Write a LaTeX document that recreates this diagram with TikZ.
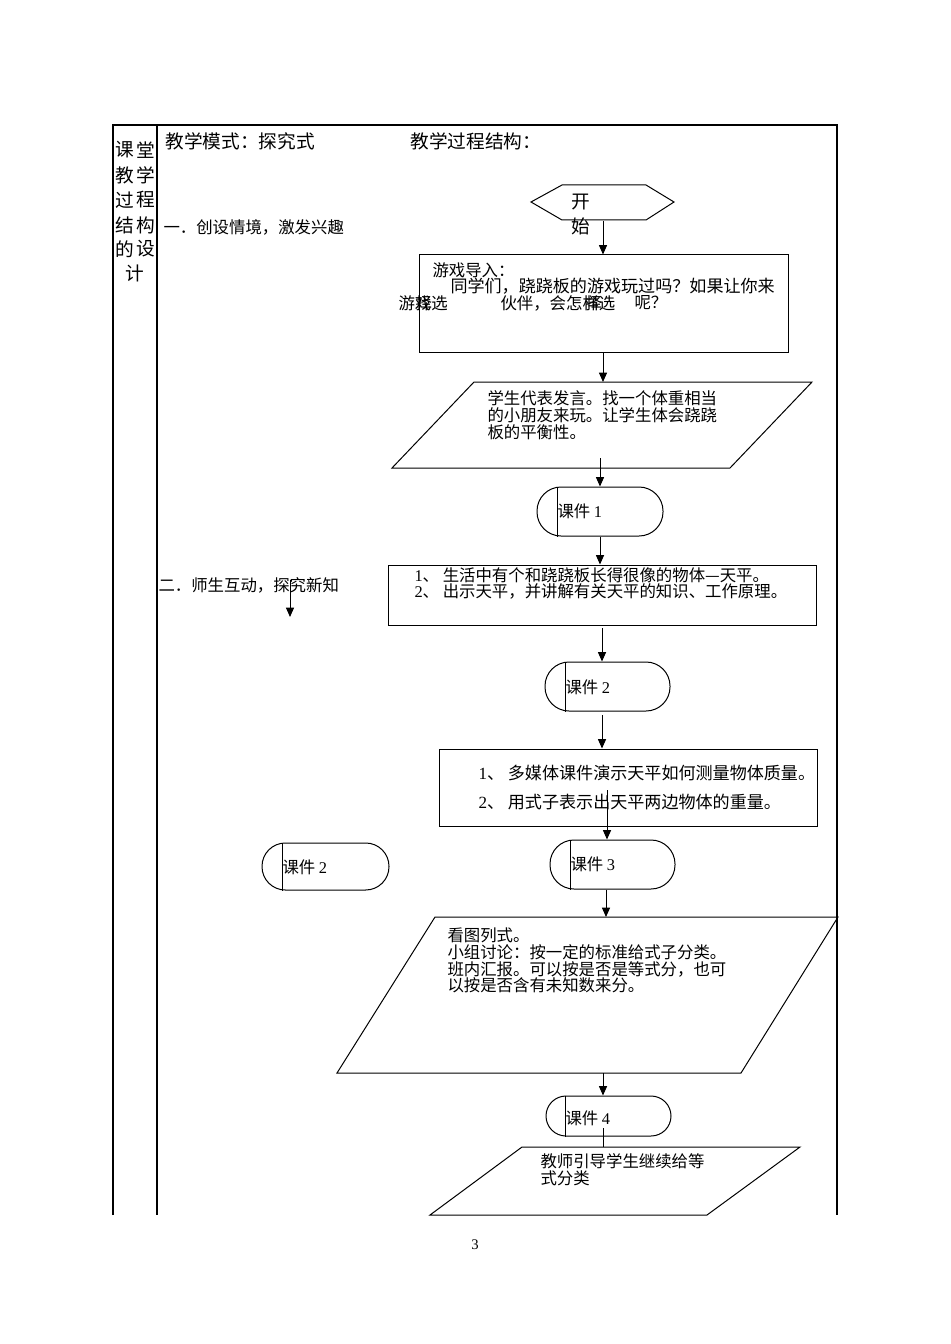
\documentclass[tikz,border=0pt]{standalone}
\usepackage{fontspec}
\setmainfont{Liberation Serif}
\newfontfamily\cjk{Noto Sans CJK SC}
\usetikzlibrary{arrows.meta,fit}
\newcommand{\dg}[1]{{\rmfamily #1}}
\begin{document}
\begin{tikzpicture}[x=0.75pt,y=-0.75pt,line width=0.75pt,
 txt/.style={anchor=west,inner sep=0,font=\cjk\fontsize{12.3}{14}\selectfont},
 wtxt/.style={anchor=west,inner sep=0,font=\cjk\fontsize{12.8}{14}\selectfont},
 big/.style={anchor=west,inner sep=0,font=\cjk\fontsize{14}{16}\selectfont},
 sect/.style={anchor=west,inner sep=0,font=\cjk\fontsize{12.3}{14}\selectfont},
 box/.style={draw,inner sep=0,fit=#1},
 term/.style={draw,inner sep=0,fit=#1},
 arr/.style={-{Triangle[length=7pt,width=6pt]}},
]
\useasboundingbox (0,0) rectangle (950,1344);
% table
\draw[line width=0.8pt] (113,1215) -- (113,125) -- (837,125) -- (837,1215);
\draw[line width=0.8pt] (157,125) -- (157,1215);
% left column
\foreach \a/\b/\y [count=\i] in {课/堂/150,教/学/175,过/程/200,结/构/225,的/设/249}{
  \node[big,anchor=center] (lc\i a) at (125,\y) {\a};
  \node[big,anchor=center] (lc\i b) at (146,\y) {\b};
}
\node[big,anchor=center] (lc6) at (135,273) {计};
% headers
\node[big] (hd1) at (165,141) {教学模式：探究式};
\node[big] (hd2) at (410,141) {教学过程结构：};
\node[sect] (s1) at (163,227) {一．创设情境，激发兴趣};
\node[sect] (s2) at (158,585) {二．师生互动，探究新知};
\coordinate (s2a) at (290,580);
\coordinate (s2b) at (290,617);
\draw[arr] (s2a) -- (s2b);
% start hexagon
\draw (531,202) -- (562,185) -- (646,185) -- (674,202) -- (646,220) -- (562,220) -- cycle;
\coordinate (hexb) at (603,221);
\node[big,anchor=center] (st1) at (581,202) {开};
\node[big,anchor=center] (st2) at (581,226) {始};
% box 1
\coordinate (r1a) at (419,255); \coordinate (r1b) at (788,352);
\node[box={(r1a)(r1b)}] (r1) {};
\node[txt] (r1t1) at (432,270) {游戏导入：};
\node[wtxt] (r1t2) at (450,286) {同学们，跷跷板的游戏玩过吗？如果让你来};
\node[txt] (r1t3) at (398,303) {游戏选};
\node[txt] (r1t4) at (415,303) {择};
\node[txt] (r1t5) at (500,303) {伙伴，会怎样选};
\node[txt] (r1t6) at (585,303) {择};
\node[txt] (r1t7) at (634,303) {呢？};
\draw[arr] (hexb) -- (r1.north -| hexb);
% parallelogram 1
\draw (474,382) -- (812,382) -- (730,468) -- (392,468) -- cycle;
\coordinate (p1t) at (603,382);
\coordinate (p1i) at (600,458);
\node[txt] (p1l1) at (487,398) {学生代表发言。找一个体重相当};
\node[txt] (p1l2) at (487,415) {的小朋友来玩。让学生体会跷跷};
\node[txt] (p1l3) at (487,432) {板的平衡性。};
\draw[arr] (r1.south -| p1t) -- (p1t);
% terminator 1
\coordinate (t1a) at (537,487); \coordinate (t1b) at (663,536);
\node[term={(t1a)(t1b)},rounded corners=18pt] (t1) {};
\draw ([xshift=15.75pt]t1.north west) -- ([xshift=15.75pt]t1.south west);
\node[txt] (t1t) at (557,511) {课件 \dg{1}};
\draw[arr] (p1i) -- (t1.north -| p1i);
% box 2
\coordinate (r2a) at (388,565); \coordinate (r2b) at (816,625);
\node[box={(r2a)(r2b)}] (r2) {};
\node[txt] (r2t1) at (414,575) {\dg{1}、 生活中有个和跷跷板长得很像的物体—天平。};
\node[txt] (r2t2) at (414,591) {\dg{2}、 出示天平，并讲解有关天平的知识、工作原理。};
\coordinate (a3) at (600,536);
\draw[arr] (t1.south -| a3) -- (r2.north -| a3);
% terminator 2
\coordinate (t2a) at (545,662); \coordinate (t2b) at (670,711);
\node[term={(t2a)(t2b)},rounded corners=18pt] (t2) {};
\draw ([xshift=15.75pt]t2.north west) -- ([xshift=15.75pt]t2.south west);
\node[txt] (t2t) at (565,687) {课件 \dg{2}};
\coordinate (a4a) at (602,628);
\draw[arr] (a4a) -- (t2.north -| a4a);
% box 3
\coordinate (r3a) at (439,749); \coordinate (r3b) at (817,826);
\node[box={(r3a)(r3b)}] (r3) {};
\node[wtxt] (r3t1) at (478,773) {\dg{1}、 多媒体课件演示天平如何测量物体质量。};
\node[wtxt] (r3t2) at (478,802) {\dg{2}、 用式子表示出天平两边物体的重量。};
\coordinate (a5a) at (602,715);
\draw[arr] (a5a) -- (r3.north -| a5a);
% terminator 3
\coordinate (t3a) at (550,840); \coordinate (t3b) at (675,889);
\node[term={(t3a)(t3b)},rounded corners=18pt] (t3) {};
\draw ([xshift=15.75pt]t3.north west) -- ([xshift=15.75pt]t3.south west);
\node[txt] (t3t) at (570,864) {课件 \dg{3}};
\coordinate (a6a) at (607,790);
\draw[arr] (a6a) -- (t3.north -| a6a);
% terminator left
\coordinate (tla) at (262,843); \coordinate (tlb) at (389,890);
\node[term={(tla)(tlb)},rounded corners=17.5pt] (tl) {};
\draw ([xshift=15.75pt]tl.north west) -- ([xshift=15.75pt]tl.south west);
\node[txt] (tlt) at (282,867) {课件 \dg{2}};
% parallelogram 2
\draw (435,917) -- (838,917) -- (741,1073) -- (337,1073) -- cycle;
\coordinate (p2t) at (606,917);
\coordinate (p2b) at (603,1073);
\node[txt] (p2l1) at (447,935) {看图列式。};
\node[txt] (p2l2) at (447,952) {小组讨论：按一定的标准给式子分类。};
\node[txt] (p2l3) at (447,969) {班内汇报。可以按是否是等式分，也可};
\node[txt] (p2l4) at (447,985) {以按是否含有未知数来分。};
\draw[arr] (t3.south -| p2t) -- (p2t);
% terminator 4
\coordinate (t4a) at (546,1096); \coordinate (t4b) at (671,1136);
\node[term={(t4a)(t4b)},rounded corners=15pt] (t4) {};
\draw ([xshift=15pt]t4.north west) -- ([xshift=15pt]t4.south west);
\node[txt] (t4t) at (565,1118) {课件 \dg{4}};
\draw[arr] (p2b) -- (t4.north -| p2b);
% parallelogram 3
\draw (522,1147) -- (800,1147) -- (707,1215) -- (430,1215) -- cycle;
\coordinate (p3t) at (603,1147);
\coordinate (t4i) at (603,1128);
\draw (t4i) -- (p3t);
\node[txt] (p3l1) at (540,1161) {教师引导学生继续给等};
\node[txt] (p3l2) at (540,1178) {式分类};
% page number
\node[inner sep=0,font=\fontsize{11}{12}\selectfont] (pg) at (475,1245) {3};
\end{tikzpicture}
\end{document}
